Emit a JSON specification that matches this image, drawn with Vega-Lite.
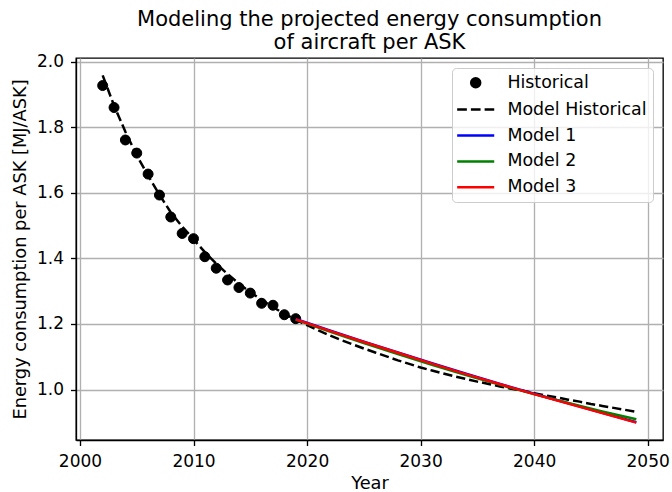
{
  "$schema": "https://vega.github.io/schema/vega-lite/v6.json",
  "width": 587,
  "height": 382,
  "autosize": {"type": "none"},
  "padding": {"left": 76, "top": 58, "right": 9, "bottom": 52},
  "background": "white",
  "title": {
    "text": ["Modeling the projected energy consumption", "of aircraft per ASK"],
    "font": "DejaVu Sans",
    "fontSize": 21,
    "fontWeight": "normal",
    "color": "black",
    "anchor": "middle",
    "offset": 0,
    "lineHeight": 23
  },
  "datasets": {
    "hist": [
      {"year": 2002, "value": 1.927, "series": "Historical"},
      {"year": 2003, "value": 1.860, "series": "Historical"},
      {"year": 2004, "value": 1.761, "series": "Historical"},
      {"year": 2005, "value": 1.721, "series": "Historical"},
      {"year": 2006, "value": 1.657, "series": "Historical"},
      {"year": 2007, "value": 1.593, "series": "Historical"},
      {"year": 2008, "value": 1.526, "series": "Historical"},
      {"year": 2009, "value": 1.476, "series": "Historical"},
      {"year": 2010, "value": 1.460, "series": "Historical"},
      {"year": 2011, "value": 1.405, "series": "Historical"},
      {"year": 2012, "value": 1.370, "series": "Historical"},
      {"year": 2013, "value": 1.334, "series": "Historical"},
      {"year": 2014, "value": 1.311, "series": "Historical"},
      {"year": 2015, "value": 1.294, "series": "Historical"},
      {"year": 2016, "value": 1.263, "series": "Historical"},
      {"year": 2017, "value": 1.257, "series": "Historical"},
      {"year": 2018, "value": 1.228, "series": "Historical"},
      {"year": 2019, "value": 1.216, "series": "Historical"}
    ],
    "modelhist": [
      {"year": 2002, "value": 1.958, "series": "Model Historical"},
      {"year": 2003, "value": 1.866, "series": "Model Historical"},
      {"year": 2004, "value": 1.786, "series": "Model Historical"},
      {"year": 2005, "value": 1.714, "series": "Model Historical"},
      {"year": 2006, "value": 1.652, "series": "Model Historical"},
      {"year": 2007, "value": 1.594, "series": "Model Historical"},
      {"year": 2008, "value": 1.540, "series": "Model Historical"},
      {"year": 2009, "value": 1.497, "series": "Model Historical"},
      {"year": 2010, "value": 1.458, "series": "Model Historical"},
      {"year": 2011, "value": 1.419, "series": "Model Historical"},
      {"year": 2012, "value": 1.384, "series": "Model Historical"},
      {"year": 2013, "value": 1.352, "series": "Model Historical"},
      {"year": 2014, "value": 1.323, "series": "Model Historical"},
      {"year": 2015, "value": 1.297, "series": "Model Historical"},
      {"year": 2016, "value": 1.273, "series": "Model Historical"},
      {"year": 2017, "value": 1.251, "series": "Model Historical"},
      {"year": 2018, "value": 1.231, "series": "Model Historical"},
      {"year": 2019, "value": 1.213, "series": "Model Historical"},
      {"year": 2020, "value": 1.196, "series": "Model Historical"},
      {"year": 2021, "value": 1.180, "series": "Model Historical"},
      {"year": 2022, "value": 1.165, "series": "Model Historical"},
      {"year": 2023, "value": 1.151, "series": "Model Historical"},
      {"year": 2024, "value": 1.138, "series": "Model Historical"},
      {"year": 2025, "value": 1.125, "series": "Model Historical"},
      {"year": 2026, "value": 1.113, "series": "Model Historical"},
      {"year": 2027, "value": 1.101, "series": "Model Historical"},
      {"year": 2028, "value": 1.089, "series": "Model Historical"},
      {"year": 2029, "value": 1.078, "series": "Model Historical"},
      {"year": 2030, "value": 1.067, "series": "Model Historical"},
      {"year": 2031, "value": 1.058, "series": "Model Historical"},
      {"year": 2032, "value": 1.049, "series": "Model Historical"},
      {"year": 2033, "value": 1.040, "series": "Model Historical"},
      {"year": 2034, "value": 1.032, "series": "Model Historical"},
      {"year": 2035, "value": 1.024, "series": "Model Historical"},
      {"year": 2036, "value": 1.017, "series": "Model Historical"},
      {"year": 2037, "value": 1.009, "series": "Model Historical"},
      {"year": 2038, "value": 1.002, "series": "Model Historical"},
      {"year": 2039, "value": 0.996, "series": "Model Historical"},
      {"year": 2040, "value": 0.989, "series": "Model Historical"},
      {"year": 2041, "value": 0.982, "series": "Model Historical"},
      {"year": 2042, "value": 0.976, "series": "Model Historical"},
      {"year": 2043, "value": 0.969, "series": "Model Historical"},
      {"year": 2044, "value": 0.963, "series": "Model Historical"},
      {"year": 2045, "value": 0.956, "series": "Model Historical"},
      {"year": 2046, "value": 0.950, "series": "Model Historical"},
      {"year": 2047, "value": 0.944, "series": "Model Historical"},
      {"year": 2048, "value": 0.938, "series": "Model Historical"},
      {"year": 2049, "value": 0.932, "series": "Model Historical"}
    ],
    "models": [
      {"year": 2019, "value": 1.215, "series": "Model 1"},
      {"year": 2022, "value": 1.180, "series": "Model 1"},
      {"year": 2025, "value": 1.146, "series": "Model 1"},
      {"year": 2028, "value": 1.113, "series": "Model 1"},
      {"year": 2031, "value": 1.080, "series": "Model 1"},
      {"year": 2034, "value": 1.048, "series": "Model 1"},
      {"year": 2037, "value": 1.017, "series": "Model 1"},
      {"year": 2040, "value": 0.987, "series": "Model 1"},
      {"year": 2043, "value": 0.958, "series": "Model 1"},
      {"year": 2046, "value": 0.929, "series": "Model 1"},
      {"year": 2049, "value": 0.900, "series": "Model 1"},
      {"year": 2019, "value": 1.213, "series": "Model 2"},
      {"year": 2022, "value": 1.177, "series": "Model 2"},
      {"year": 2025, "value": 1.142, "series": "Model 2"},
      {"year": 2028, "value": 1.108, "series": "Model 2"},
      {"year": 2031, "value": 1.075, "series": "Model 2"},
      {"year": 2034, "value": 1.044, "series": "Model 2"},
      {"year": 2037, "value": 1.014, "series": "Model 2"},
      {"year": 2040, "value": 0.986, "series": "Model 2"},
      {"year": 2043, "value": 0.959, "series": "Model 2"},
      {"year": 2046, "value": 0.933, "series": "Model 2"},
      {"year": 2049, "value": 0.909, "series": "Model 2"},
      {"year": 2019, "value": 1.214, "series": "Model 3"},
      {"year": 2022, "value": 1.179, "series": "Model 3"},
      {"year": 2025, "value": 1.145, "series": "Model 3"},
      {"year": 2028, "value": 1.112, "series": "Model 3"},
      {"year": 2031, "value": 1.079, "series": "Model 3"},
      {"year": 2034, "value": 1.047, "series": "Model 3"},
      {"year": 2037, "value": 1.016, "series": "Model 3"},
      {"year": 2040, "value": 0.986, "series": "Model 3"},
      {"year": 2043, "value": 0.957, "series": "Model 3"},
      {"year": 2046, "value": 0.928, "series": "Model 3"},
      {"year": 2049, "value": 0.899, "series": "Model 3"}
    ]
  },
  "encoding": {
    "x": {
      "field": "year",
      "type": "quantitative",
      "scale": {"domain": [1999.65, 2051.35], "nice": false, "zero": false},
      "axis": {"values": [2000, 2010, 2020, 2030, 2040, 2050], "format": "d", "title": "Year", "grid": true}
    },
    "y": {
      "field": "value",
      "type": "quantitative",
      "scale": {"domain": [0.846, 2.011], "nice": false, "zero": false},
      "axis": {"values": [1.0, 1.2, 1.4, 1.6, 1.8, 2.0], "format": ".1f", "title": "Energy consumption per ASK [MJ/ASK]", "grid": true}
    }
  },
  "layer": [
    {
      "data": {"name": "hist"},
      "mark": {"type": "point", "filled": true, "size": 247, "opacity": 1, "strokeWidth": 1},
      "encoding": {
        "fill": {
          "field": "series", "type": "nominal",
          "scale": {"domain": ["Historical", "Model Historical", "Model 1", "Model 2", "Model 3"], "range": ["#000000", "#000000", "#0000ff", "#008000", "#ff0000"]},
          "legend": {"title": null, "orient": "none", "legendX": 376, "legendY": 10, "padding": 6, "rowPadding": 6.9, "labelOffset": 23, "symbolOffset": 9, "labelFont": "DejaVu Sans", "labelFontSize": 17.4, "labelColor": "black", "labelLimit": 300, "symbolSize": 200, "symbolStrokeWidth": 2.5, "symbolOpacity": 1, "fillColor": "rgba(255,255,255,0.8)", "strokeColor": "#cccccc", "cornerRadius": 4}
        },
        "stroke": {
          "field": "series", "type": "nominal",
          "scale": {"domain": ["Historical", "Model Historical", "Model 1", "Model 2", "Model 3"], "range": ["#000000", "#000000", "#0000ff", "#008000", "#ff0000"]},
          "legend": {"title": null, "orient": "none", "legendX": 376, "legendY": 10, "padding": 6, "rowPadding": 6.9, "labelOffset": 23, "symbolOffset": 9, "labelFont": "DejaVu Sans", "labelFontSize": 17.4, "labelColor": "black", "labelLimit": 300, "symbolSize": 200, "symbolStrokeWidth": 2.5, "symbolOpacity": 1, "fillColor": "rgba(255,255,255,0.8)", "strokeColor": "#cccccc", "cornerRadius": 4}
        },
        "shape": {
          "field": "series", "type": "nominal",
          "scale": {"domain": ["Historical", "Model Historical", "Model 1", "Model 2", "Model 3"], "range": ["M0.636,0C0.636,0.3513,0.3513,0.636,0,0.636C-0.3513,0.636,-0.636,0.3513,-0.636,0C-0.636,-0.3513,-0.3513,-0.636,0,-0.636C0.3513,-0.636,0.636,-0.3513,0.636,0Z", "M-2.62,0H-1.25M-0.68,0H0.69M1.26,0H2.62", "M-2.62,0H2.62", "M-2.62,0H2.62", "M-2.62,0H2.62"]},
          "legend": {"title": null, "orient": "none", "legendX": 376, "legendY": 10, "padding": 6, "rowPadding": 6.9, "labelOffset": 23, "symbolOffset": 9, "labelFont": "DejaVu Sans", "labelFontSize": 17.4, "labelColor": "black", "labelLimit": 300, "symbolSize": 200, "symbolStrokeWidth": 2.5, "symbolOpacity": 1, "fillColor": "rgba(255,255,255,0.8)", "strokeColor": "#cccccc", "cornerRadius": 4}
        }
      }
    },
    {
      "data": {"name": "modelhist"},
      "mark": {"type": "line", "strokeWidth": 2.5, "strokeDash": [9.25, 4]},
      "encoding": {
        "stroke": {"field": "series", "type": "nominal"}
      }
    },
    {
      "data": {"name": "models"},
      "mark": {"type": "line", "strokeWidth": 2.5},
      "encoding": {
        "stroke": {"field": "series", "type": "nominal"}
      }
    }
  ],
  "config": {
    "font": "DejaVu Sans",
    "view": {"stroke": "black", "strokeWidth": 1.33},
    "axis": {
      "labelFont": "DejaVu Sans",
      "labelFontSize": 17,
      "labelColor": "black",
      "titleFont": "DejaVu Sans",
      "titleFontSize": 17.8,
      "titleFontWeight": "normal",
      "titleColor": "black",
      "tickColor": "black",
      "tickSize": 5.5,
      "tickWidth": 1.33,
      "domainColor": "black",
      "domainWidth": 1.33,
      "gridColor": "#b0b0b0",
      "gridWidth": 1.33,
      "gridOpacity": 1
    },
    "axisX": {"labelPadding": 8, "titlePadding": 5},
    "axisY": {"labelPadding": 7, "titlePadding": 7}
  }
}
